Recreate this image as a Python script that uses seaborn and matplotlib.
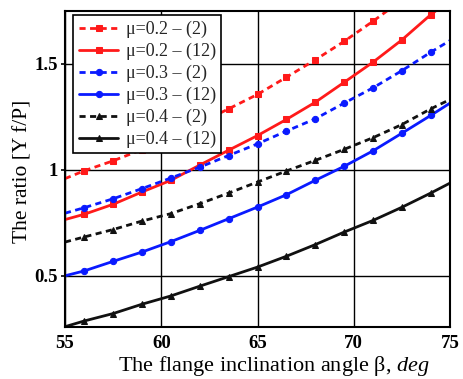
import matplotlib
matplotlib.use("Agg")
import matplotlib.pyplot as plt
import seaborn as sns
import pandas as pd
from matplotlib.ticker import FuncFormatter

sns.set_theme(style="white")
plt.rcParams['font.family'] = ['Liberation Serif', 'DejaVu Serif']
plt.rcParams['mathtext.fontset'] = 'custom'
plt.rcParams['mathtext.rm'] = 'Liberation Serif'
plt.rcParams['mathtext.it'] = 'Liberation Serif:italic'

beta = [55, 56, 57.5, 59, 60.5, 62, 63.5, 65, 66.5, 68, 69.5, 71, 72.5, 74, 75]

mu02_2 = [0.958, 0.995, 1.042, 1.095, 1.155, 1.22, 1.287, 1.355, 1.436, 1.518, 1.605, 1.700, 1.80, 1.90, 1.97]
mu02_12 = [0.765, 0.790, 0.837, 0.895, 0.950, 1.022, 1.092, 1.161, 1.237, 1.318, 1.412, 1.507, 1.612, 1.731, 1.80]
mu03_2 = [0.795, 0.821, 0.863, 0.911, 0.961, 1.012, 1.067, 1.122, 1.182, 1.240, 1.314, 1.386, 1.467, 1.554, 1.609]
mu03_12 = [0.500, 0.523, 0.568, 0.612, 0.661, 0.714, 0.769, 0.824, 0.882, 0.950, 1.016, 1.089, 1.172, 1.256, 1.314]
mu04_2 = [0.659, 0.683, 0.718, 0.758, 0.793, 0.840, 0.890, 0.942, 0.994, 1.044, 1.096, 1.151, 1.213, 1.287, 1.331]
mu04_12 = [0.260, 0.287, 0.322, 0.366, 0.405, 0.451, 0.496, 0.541, 0.592, 0.647, 0.706, 0.761, 0.823, 0.890, 0.937]

labels = ["μ=0.2 – (2)", "μ=0.2 – (12)", "μ=0.3 – (2)", "μ=0.3 – (12)", "μ=0.4 – (2)", "μ=0.4 – (12)"]
series = [mu02_2, mu02_12, mu03_2, mu03_12, mu04_2, mu04_12]
colors = ["#ff1a1a", "#ff1a1a", "#0a1aff", "#0a1aff", "#111111", "#111111"]
markers = ["s", "s", "o", "o", "^", "^"]
msizes = [5, 5, 4.5, 4.5, 4, 4]
dashed = [True, False, True, False, True, False]

fig = plt.figure(figsize=(4.63, 3.79), dpi=100)
ax = fig.add_axes([0.1404, 0.138, 0.8316, 0.834])

for lab, vals, c, m, ms, d in zip(labels, series, colors, markers, msizes, dashed):
    df = pd.DataFrame({"beta": beta, "ratio": vals})
    sns.lineplot(data=df, x="beta", y="ratio", ax=ax, color=c, marker=m,
                 markersize=ms, markeredgecolor=c, markevery=slice(1, -1),
                 linewidth=2.0, linestyle=(0, (2.2, 1.6)) if d else "-",
                 label=lab)

ax.set_xlim(55, 75)
ax.set_ylim(0.26, 1.75)
ax.set_xticks([55, 60, 65, 70, 75])
ax.set_yticks([0.5, 1.0, 1.5])
ax.yaxis.set_major_formatter(FuncFormatter(lambda v, p: "%g" % v))
ax.grid(True, color="black", linewidth=1.0)
for s in ax.spines.values():
    s.set_color("black")
    s.set_linewidth(1.5)
ax.tick_params(axis="both", labelsize=13.5, colors="black", length=3, width=1.2,
               direction="out", left=True, bottom=False)
ax.tick_params(axis="x", pad=3)
ax.tick_params(axis="y", pad=2)
for t in ax.get_xticklabels() + ax.get_yticklabels():
    t.set_fontweight("bold")

ax.set_xlabel(r"The flange inclination angle β, $\it{deg}$", fontsize=16, color="black")
ax.xaxis.set_label_coords(0.543, -0.086)
ax.set_ylabel("The ratio [Y f/P]", fontsize=15.5, color="black")
ax.yaxis.set_label_coords(-0.084, 0.49)

leg = ax.legend(loc="upper left", bbox_to_anchor=(0.012, 0.997), fontsize=13,
                frameon=True, fancybox=False, edgecolor="black", framealpha=1,
                handlelength=2.2, handletextpad=0.4, labelspacing=0.26,
                borderpad=0.3, borderaxespad=0.2)
leg.get_frame().set_linewidth(1.2)

fig.savefig("out.png", dpi=100)
